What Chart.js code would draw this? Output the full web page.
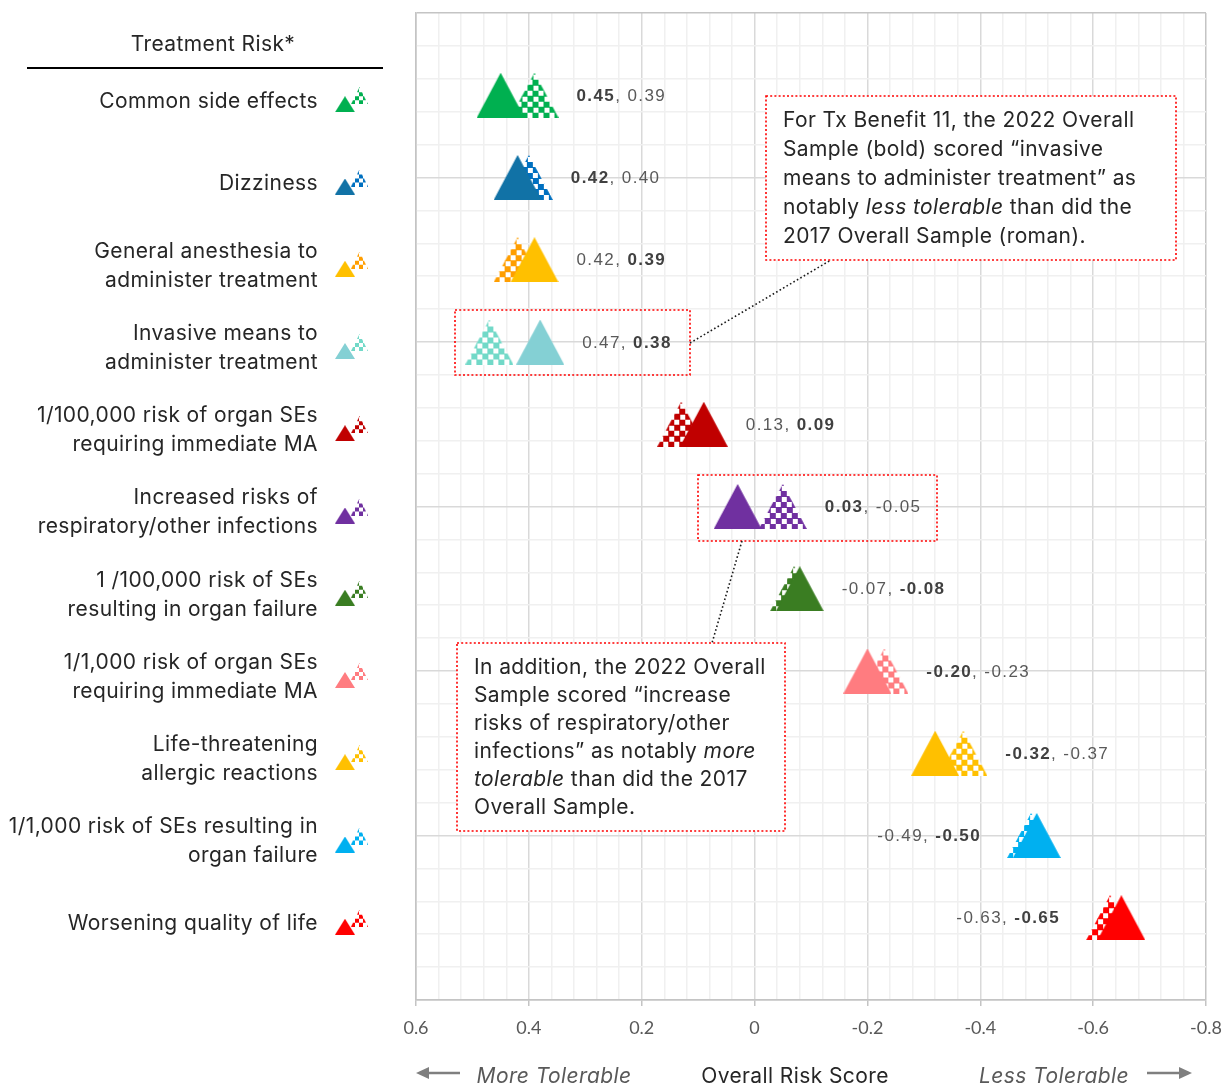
<!DOCTYPE html>
<html>
<head>
<meta charset="utf-8">
<script src="https://cdn.jsdelivr.net/npm/chart.js@4"></script>
<style>
  html, body { margin: 0; padding: 0; background: #ffffff; }
</style>
</head>
<body>
<canvas id="chart" width="1225" height="1088"></canvas>
<script>
// treatment risks, top to bottom
const risks = [
  ['Common side effects'],
  ['Dizziness'],
  ['General anesthesia to', 'administer treatment'],
  ['Invasive means to', 'administer treatment'],
  ['1/100,000 risk of organ SEs', 'requiring immediate MA'],
  ['Increased risks of', 'respiratory/other infections'],
  ['1 /100,000 risk of SEs', 'resulting in organ failure'],
  ['1/1,000 risk of organ SEs', 'requiring immediate MA'],
  ['Life-threatening', 'allergic reactions'],
  ['1/1,000 risk of SEs resulting in', 'organ failure'],
  ['Worsening quality of life']
]
const rowY = [11, 10, 9, 8, 7, 6, 5, 4, 3, 2, 1]

// overall risk scores, 2022 sample (solid) and 2017 sample (checkered)
const score2022 = [0.45, 0.42, 0.39, 0.38, 0.09, 0.03, -0.08, -0.20, -0.32, -0.50, -0.65]
const score2017 = [0.39, 0.40, 0.42, 0.47, 0.13, -0.05, -0.07, -0.23, -0.37, -0.49, -0.63]

const xTickLabels = [0.6, 0.4, 0.2, 0, -0.2, -0.4, -0.6, -0.8]

const solidColors = ['#00B050', '#1172A6', '#FFC000', '#84D0D4', '#C00000', '#7030A0',
  '#3A7D22', '#FF7C80', '#FFC000', '#00B0F0', '#FF0000']
const checkColors = ['#00B050', '#0070C0', '#FF9E00', '#72D9C8', '#C00000', '#7030A0',
  '#3A7D22', '#FF7C80', '#FFC000', '#00B0F0', '#FF0000']

// rows whose value label sits left of the markers
const labelLeftRows = [9, 10]

const TEXT = '#262626'
const GREY = '#595959'
const SANS = 'Inter'

function triangleImage(color, checked, w, h, cell) {
  const c = document.createElement('canvas')
  c.width = w
  c.height = h
  const g = c.getContext('2d')
  g.beginPath()
  g.moveTo(w / 2, 0)
  g.lineTo(w, h)
  g.lineTo(0, h)
  g.closePath()
  if (!checked) {
    g.fillStyle = color
    g.fill()
    return c
  }
  g.save()
  g.clip()
  g.fillStyle = '#ffffff'
  g.fillRect(0, 0, w, h)
  g.fillStyle = color
  for (let i = 0; i * cell < w; i++) {
    for (let j = 0; j * cell < h; j++) {
      if ((i + j) % 2 === 0) g.fillRect(Math.round(i * cell), Math.round(h - (j + 1) * cell), Math.ceil(cell), Math.ceil(cell))
    }
  }
  g.restore()
  return c
}

const solidMarks = solidColors.map(c => triangleImage(c, false, 48, 45))
const checkMarks = checkColors.map(c => triangleImage(c, true, 48, 45, 5.5))
const solidIcons = solidColors.map(c => triangleImage(c, false, 20, 16))
const checkIcons = checkColors.map(c => triangleImage(c, true, 17, 17, 4))

function isMajor(v, step) {
  const r = v / step
  return Math.abs(r - Math.round(r)) < 1e-6
}

function gridColor(ctx, step, lo, hi) {
  const v = ctx.tick ? ctx.tick.value : 0
  if (Math.abs(v - lo) < 1e-6 || Math.abs(v - hi) < 1e-6) return '#C4C4C4'
  return isMajor(v, step) ? '#D9D9D9' : '#F0F0F0'
}

function drawRuns(g, runs, x, y) {
  // runs: [text, font]
  let cx = x
  runs.forEach(([t, f]) => {
    g.font = f
    g.fillText(t, cx, y)
    cx += g.measureText(t).width
  })
  return cx
}

function runsWidth(g, runs) {
  let w = 0
  runs.forEach(([t, f]) => {
    g.font = f
    w += g.measureText(t).width
  })
  return w
}

function dottedRect(g, x, y, w, h, fill) {
  g.save()
  if (fill) {
    g.fillStyle = '#ffffff'
    g.fillRect(x, y, w, h)
  }
  g.strokeStyle = '#FF0000'
  g.lineWidth = 1.6
  g.setLineDash([2, 2.2])
  g.strokeRect(x, y, w, h)
  g.restore()
}

function dottedLine(g, x1, y1, x2, y2) {
  g.save()
  g.strokeStyle = '#1a1a1a'
  g.lineWidth = 1.6
  g.setLineDash([1.6, 2.4])
  g.beginPath()
  g.moveTo(x1, y1)
  g.lineTo(x2, y2)
  g.stroke()
  g.restore()
}

function arrow(g, x1, x2, y) {
  const dir = Math.sign(x2 - x1)
  g.save()
  g.strokeStyle = '#7F7F7F'
  g.fillStyle = '#7F7F7F'
  g.lineWidth = 2.5
  g.beginPath()
  g.moveTo(x1, y)
  g.lineTo(x2 - dir * 10, y)
  g.stroke()
  g.beginPath()
  g.moveTo(x2, y)
  g.lineTo(x2 - dir * 13, y - 6)
  g.lineTo(x2 - dir * 13, y + 6)
  g.closePath()
  g.fill()
  g.restore()
}

const sidePanel = {
  id: 'sidePanel',
  afterDraw(chart) {
    const g = chart.ctx
    const xs = chart.scales.x
    const ys = chart.scales.y
    g.save()

    // header of the risk column
    g.fillStyle = TEXT
    g.textBaseline = 'middle'
    g.textAlign = 'center'
    g.letterSpacing = '0.4px'
    g.font = `21px ${SANS}`
    g.fillText('Treatment Risk*', 213, 45)
    g.strokeStyle = '#000000'
    g.lineWidth = 2
    g.beginPath()
    g.moveTo(27, 68)
    g.lineTo(383, 68)
    g.stroke()

    // risk names and their small legend icons
    g.textAlign = 'right'
    g.font = `21px ${SANS}`
    risks.forEach((lines, i) => {
      const py = ys.getPixelForValue(rowY[i]) + 6
      lines.forEach((t, k) => {
        g.fillText(t, 318, py + (k - (lines.length - 1) / 2) * 29)
      })
      const iy = ys.getPixelForValue(rowY[i])
      g.drawImage(checkIcons[i], 351, iy - 8)
      g.drawImage(solidIcons[i], 335, iy + 1)
    })

    // value labels, bold = 2022 sample
    g.textAlign = 'left'
    g.fillStyle = GREY
    g.letterSpacing = '1.4px'
    const boldFont = 'bold 17px "Liberation Sans"'
    const romanFont = '17px "Liberation Sans"'
    risks.forEach((_, i) => {
      const pair = [
        { v: score2022[i], bold: true },
        { v: score2017[i], bold: false }
      ].sort((a, b) => b.v - a.v)
      const runs = [
        [pair[0].v.toFixed(2), pair[0].bold ? boldFont : romanFont],
        [', ', romanFont],
        [pair[1].v.toFixed(2), pair[1].bold ? boldFont : romanFont]
      ]
      const py = ys.getPixelForValue(rowY[i]) + 1
      const px = pair.map(p => xs.getPixelForValue(p.v))
      let x
      if (labelLeftRows.includes(i)) {
        x = Math.min(...px) - 24 - 26 - runsWidth(g, runs)
      } else {
        x = Math.max(...px) + 24 + 18
      }
      runs.forEach(r => {
        g.fillStyle = r[1] === boldFont ? '#404040' : GREY
        g.font = r[1]
        g.fillText(r[0], x, py)
        x += g.measureText(r[0]).width
      })
    })
    g.letterSpacing = '0.4px'

    // call-outs
    dottedRect(g, 455, 310, 235, 65, false)
    dottedRect(g, 698, 475, 239, 66, false)
    dottedLine(g, 690, 343, 831, 260)
    dottedLine(g, 742, 541, 712, 643)

    dottedRect(g, 766, 96, 410, 164, true)
    dottedRect(g, 457, 643, 328, 188, true)

    g.fillStyle = TEXT
    const nf = `21px ${SANS}`
    const itf = `italic 21px ${SANS}`
    const box1 = [
      [['For Tx Benefit 11, the 2022 Overall', nf]],
      [['Sample (bold) scored \u201cinvasive', nf]],
      [['means to administer treatment\u201d as', nf]],
      [['notably ', nf], ['less tolerable', itf], [' than did the', nf]],
      [['2017 Overall Sample (roman).', nf]]
    ]
    box1.forEach((runs, k) => drawRuns(g, runs, 783, 121 + k * 29))
    const box2 = [
      [['In addition, the 2022 Overall', nf]],
      [['Sample scored \u201cincrease', nf]],
      [['risks of respiratory/other', nf]],
      [['infections\u201d as notably ', nf], ['more', itf]],
      [['tolerable', itf], [' than did the 2017', nf]],
      [['Overall Sample.', nf]]
    ]
    box2.forEach((runs, k) => drawRuns(g, runs, 474, 668 + k * 28))

    // axis caption with direction hints
    g.textAlign = 'center'
    g.fillStyle = TEXT
    g.font = `21px ${SANS}`
    g.fillText('Overall Risk Score', 795, 1077)
    g.fillStyle = GREY
    g.font = `italic 21px ${SANS}`
    g.fillText('More Tolerable', 554, 1077)
    g.fillText('Less Tolerable', 1054, 1077)
    arrow(g, 460, 416, 1073)
    arrow(g, 1147, 1192, 1073)

    g.restore()
  }
}

new Chart(document.getElementById('chart'), {
  type: 'scatter',
  data: {
    datasets: [
      {
        label: '2022 Overall Sample',
        data: score2022.map((v, i) => ({ x: v, y: rowY[i] })),
        pointStyle: solidMarks,
        pointRadius: 24
      },
      {
        label: '2017 Overall Sample',
        data: score2017.map((v, i) => ({ x: v, y: rowY[i] })),
        pointStyle: checkMarks,
        pointRadius: 24
      }
    ]
  },
  options: {
    responsive: false,
    animation: false,
    layout: { autoPadding: false, padding: { left: 416, right: 19, top: 13, bottom: 0 } },
    plugins: {
      legend: { display: false },
      tooltip: { enabled: false }
    },
    scales: {
      x: {
        type: 'linear',
        reverse: true,
        min: -0.8,
        max: 0.6,
        afterFit: s => {
          s.height = 88
          s.paddingLeft = 0
          s.paddingRight = 0
        },
        border: { color: '#C4C4C4', width: 1.5 },
        grid: {
          color: ctx => gridColor(ctx, 0.2, -0.8, 0.6),
          lineWidth: 1.5,
          tickLength: 6,
          tickColor: ctx => (ctx.tick && isMajor(ctx.tick.value, 0.2)) ? '#C4C4C4' : 'rgba(0,0,0,0)'
        },
        ticks: {
          stepSize: 0.04,
          autoSkip: false,
          maxRotation: 0,
          padding: 11,
          color: GREY,
          font: { family: 'Lato', size: 18 },
          callback: v => {
            const hit = xTickLabels.find(t => Math.abs(t - v) < 1e-6)
            return hit === undefined ? '' : String(hit)
          }
        }
      },
      y: {
        type: 'linear',
        min: 0,
        max: 12,
        afterFit: s => {
          s.width = 0
          s.paddingTop = 0
          s.paddingBottom = 0
        },
        border: { color: '#C4C4C4', width: 1.5 },
        grid: {
          color: ctx => gridColor(ctx, 2, 0, 12),
          lineWidth: 1.5,
          drawTicks: false
        },
        ticks: { display: false, stepSize: 0.4 }
      }
    }
  },
  plugins: [sidePanel]
})
</script>
</body>
</html>
